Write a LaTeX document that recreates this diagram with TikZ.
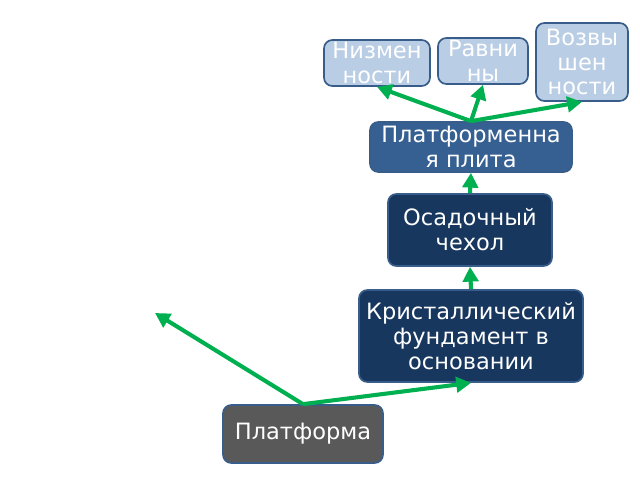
\documentclass[tikz,border=0pt]{standalone}
\usepackage{fontspec}
\setmainfont{DejaVu Sans}
\usepackage{tikz}
\usetikzlibrary{arrows.meta}
\usepackage{xcolor}
\definecolor{lightbox}{HTML}{B9CDE5}
\definecolor{boxline}{HTML}{385D8A}
\definecolor{midbox}{HTML}{376092}
\definecolor{darkbox}{HTML}{17375E}
\definecolor{greybox}{HTML}{595959}
\definecolor{arrowgreen}{HTML}{00B050}

\begin{document}
\begin{tikzpicture}[x=0.025cm, y=-0.025cm,
        box/.style={draw=boxline, line width=1.2pt, rounded corners=6pt, align=center, inner sep=0pt,
            text=white, font=\fontsize{16}{17.7}\selectfont},
        lightnode/.style={box, fill=lightbox},
        link/.style={draw=arrowgreen, line width=2.9pt, -{Triangle[length=10.5pt, width=11pt]}}]
        \useasboundingbox (0, 0) rectangle (640, 480);
        \node [lightnode, minimum width=2.65cm, minimum height=1.15cm] (niz) at (377, 63) {Низмен\\ности};
        \node [lightnode, minimum width=2.25cm, minimum height=1.15cm] (rav) at (483, 61) {Равни\\ны};
        \node [lightnode, minimum width=2.3cm, minimum height=1.95cm] (voz) at (582, 62) {Возвы\\шен\\ности};
        \node [box, fill=midbox, minimum width=5.05cm, minimum height=1.25cm] (plita) at (471, 147) {Платформенна\\я плита};
        \node [box, fill=darkbox, minimum width=4.1cm, minimum height=1.8cm] (chehol) at (470, 230) {Осадочный\\чехол};
        \node [box, fill=darkbox, minimum width=5.6cm, minimum height=2.3cm] (fund) at (471, 336) {Кристаллический\\фундамент в\\основании};
        \node [box, fill=greybox, minimum width=4cm, minimum height=1.45cm] (platf) at (303, 434) {Платформа};
        \coordinate (free) at (155, 313);
        \draw [link] (platf.north) -- (fund.south);
        \draw [link] (platf.north) -- (free);
        \draw [link] (fund.north) -- (chehol.south);
        \draw [link] (chehol.north) -- (plita.south);
        \draw [link] (plita.north) -- (niz.south);
        \draw [link] (plita.north) -- (rav.south);
        \draw [link] (plita.north) -- (voz.south);
    \end{tikzpicture}
\end{document}
